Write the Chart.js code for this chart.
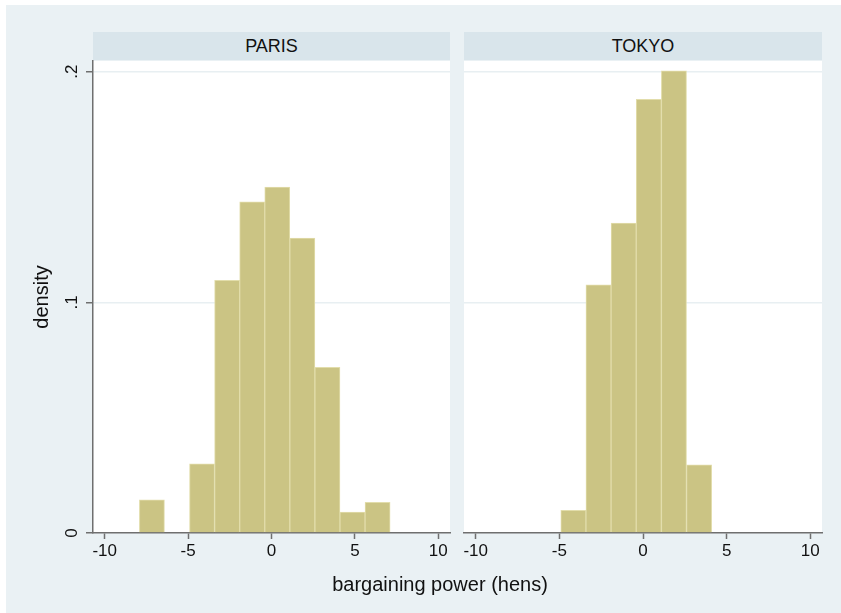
<!DOCTYPE html>
<html>
<head>
<meta charset="utf-8">
<title>bargaining power histogram</title>
<script src="https://cdn.jsdelivr.net/npm/chart.js@4.4.1/dist/chart.umd.min.js"></script>
<style>
  html, body { margin: 0; padding: 0; background: #fff; }
  #fig { position: relative; width: 841px; height: 613px; overflow: hidden; font-family: "Liberation Sans", Arial, sans-serif; }
  #bg { position: absolute; left: 6px; top: 5px; width: 835px; height: 608px; background: #eaf1f4; }
  .strip { position: absolute; top: 32px; height: 28px; background: #d9e5eb; color: #111; font-size: 18px; line-height: 28px; text-align: center; }
  canvas { position: absolute; top: 0; }
  #xtitle { position: absolute; left: 240px; width: 400px; top: 572px; line-height: 24px; text-align: center; font-size: 20px; color: #111; }
</style>
</head>
<body>
<div id="fig">
  <div id="bg"></div>
  <div class="strip" style="left:93px;width:357px;">PARIS</div>
  <div class="strip" style="left:464px;width:358px;">TOKYO</div>
  <canvas id="paris" width="457" height="613" style="left:0;"></canvas>
  <canvas id="tokyo" width="384" height="613" style="left:457px;"></canvas>
  <div id="xtitle">bargaining power (hens)</div>
</div>
<script>
const binEdges = [-7.920, -6.417, -4.914, -3.411, -1.908, -0.405, 1.098, 2.601, 4.104, 5.607, 7.110];
const parisDensity = [0.0144, null, 0.030, 0.1095, 0.1435, 0.1499, 0.1278, 0.0718, 0.0091, 0.0133];
const tokyoDensity = [null, null, 0.0098, 0.1076, 0.1343, 0.188, 0.2003, 0.0295, null, null];
const xTicks = [-10, -5, 0, 5, 10];
const yTicks = [0, 0.1, 0.2];
const yTickLabels = ["0", ".1", ".2"];

const fontFamily = '"Liberation Sans", Arial, sans-serif';
const textColor = "#111";
const axisColor = "#6f6f6f";
const gridColor = "#e8eff2";
const barFill = "#cbc484";
const barEdge = "#e2ddab";

const plotBg = {
    id: "plotBg",
    beforeDraw(chart) {
        const a = chart.chartArea;
        const ctx = chart.ctx;
        ctx.save();
        ctx.fillStyle = "#fff";
        ctx.fillRect(a.left, a.top, a.right - a.left, a.bottom - a.top);
        ctx.restore();
    },
};

// rotated y tick labels (Stata style)
const yLabels = {
    id: "yLabels",
    afterDraw(chart) {
        const y = chart.scales.y;
        const ctx = chart.ctx;
        ctx.save();
        ctx.fillStyle = textColor;
        ctx.font = "17px " + fontFamily;
        ctx.textAlign = "center";
        ctx.textBaseline = "middle";
        yTicks.forEach((v, i) => {
            ctx.save();
            ctx.translate(y.right - 21, y.getPixelForValue(v));
            ctx.rotate(-Math.PI / 2);
            ctx.fillText(yTickLabels[i], 0, 0);
            ctx.restore();
        });
        ctx.restore();
    },
};

function makePanel(id, values, isLeft) {
    const points = values.map((v, i) => ({ x: (binEdges[i] + binEdges[i + 1]) / 2, y: v }));
    return new Chart(document.getElementById(id), {
        type: "bar",
        data: {
            datasets: [
                {
                    data: points,
                    backgroundColor: barFill,
                    borderColor: barEdge,
                    borderWidth: 1,
                    barPercentage: 1,
                    categoryPercentage: 1,
                },
            ],
        },
        options: {
            responsive: false,
            animation: false,
            devicePixelRatio: 1,
            layout: { padding: { top: 61, bottom: 40, left: isLeft ? 0 : 7, right: isLeft ? 7 : 19 } },
            plugins: { legend: { display: false }, tooltip: { enabled: false } },
            scales: {
                x: {
                    type: "linear",
                    min: -10.7,
                    max: 10.7,
                    offset: false,
                    afterBuildTicks: (s) => { s.ticks = xTicks.map((v) => ({ value: v })); },
                    afterFit: (s) => { s.height = 40; },
                    ticks: { color: textColor, font: { size: 17, family: fontFamily }, padding: 2, maxRotation: 0, callback: (v) => String(v) },
                    grid: { offset: false, drawOnChartArea: false, drawTicks: true, tickLength: 6, tickColor: axisColor, tickWidth: 1.5 },
                    border: { color: axisColor, width: 1.5 },
                },
                y: {
                    min: 0,
                    max: 0.2046,
                    afterBuildTicks: (s) => { s.ticks = yTicks.map((v) => ({ value: v })); },
                    afterFit: (s) => { s.width = isLeft ? 93 : 0; },
                    ticks: { display: false },
                    grid: {
                        color: (c) => (c.tick && c.tick.value === 0 ? "rgba(0,0,0,0)" : gridColor),
                        lineWidth: 1.5,
                        drawTicks: isLeft,
                        tickLength: 7,
                        tickColor: axisColor,
                        tickWidth: 1.5,
                    },
                    border: { display: isLeft, color: axisColor, width: 1.5 },
                    title: {
                        display: isLeft,
                        text: "density",
                        color: textColor,
                        font: { size: 20, family: fontFamily },
                        padding: { top: 30, bottom: 0 },
                    },
                },
            },
        },
        plugins: isLeft ? [plotBg, yLabels] : [plotBg],
    });
}

makePanel("paris", parisDensity, true);
makePanel("tokyo", tokyoDensity, false);
</script>
</body>
</html>
